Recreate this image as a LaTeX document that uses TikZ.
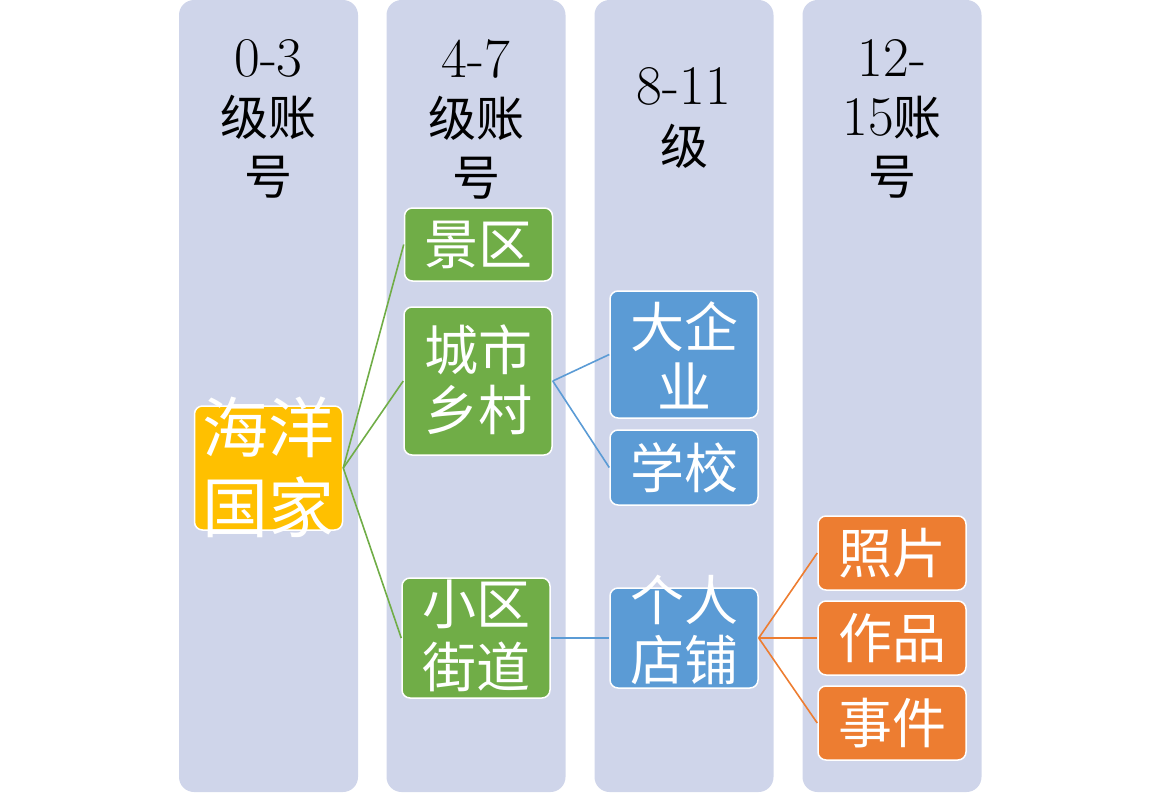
\documentclass[tikz,border=0pt]{standalone}
\usepackage{fontspec}
\newfontfamily\cjk{Noto Sans CJK SC}
\newcommand{\dg}[1]{{\fontsize{56}{59}\selectfont #1}}
\definecolor{lanec}{HTML}{CFD5EA}
\definecolor{gold}{HTML}{FFC000}
\definecolor{grn}{HTML}{70AD47}
\definecolor{blu}{HTML}{5B9BD5}
\definecolor{org}{HTML}{ED7D31}
\begin{document}
\begin{tikzpicture}[x=1pt,y=-1pt,
  lanebox/.style={fill=lanec, rounded corners=15pt, minimum width=179pt, minimum height=792pt, inner sep=0pt},
  hdr/.style={align=center, text=black, font=\fontsize{48}{59}\selectfont},
  box/.style={draw=white, line width=1.5pt, rounded corners=8pt, inner sep=0pt, minimum width=148pt},
  txt/.style={align=center, text=white, inner sep=0pt, font=\cjk\fontsize{54}{60}\selectfont},
  gline/.style={draw=grn, line width=1.6pt},
  bline/.style={draw=blu, line width=1.6pt},
  oline/.style={draw=org, line width=1.6pt}]
\useasboundingbox (0,0) rectangle (1160,796);
% lanes
\node[lanebox] (L1) at (268.5,396) {};
\node[lanebox] (L2) at (476,396) {};
\node[lanebox] (L3) at (684,396) {};
\node[lanebox] (L4) at (892,396) {};
% headers
\node[hdr] (H1) at (268.5,119) {\dg{0-3}\\{\cjk 级账}\\{\cjk 号}};
\node[hdr] (H2) at (476,119) {\dg{4-7}\\{\cjk 级账}\\{\cjk 号}};
\node[hdr, font=\fontsize{48}{60}\selectfont] (H3) at (684,118) {\dg{8-11}\\{\cjk 级}};
\node[hdr] (H4) at (892,119) {\dg{12-}\\\dg{15}{\cjk 账}\\{\cjk 号}};
% boxes
\node[box, fill=gold, minimum height=124pt] (hy) at (268.5,468) {};
\node[box, fill=grn, minimum height=73pt] (jq) at (478.5,244.5) {};
\node[box, fill=grn, minimum height=148pt] (cs) at (478,381) {};
\node[box, fill=grn, minimum height=120pt] (xq) at (476,638) {};
\node[box, fill=blu, minimum height=127pt] (dq) at (684,354.5) {};
\node[box, fill=blu, minimum height=75pt] (xx) at (684,467.5) {};
\node[box, fill=blu, minimum height=100pt] (gr) at (684,638) {};
\node[box, fill=org, minimum height=74pt] (zp) at (892,553) {};
\node[box, fill=org, minimum height=74pt] (zw) at (892,638) {};
\node[box, fill=org, minimum height=74pt] (sj) at (892,723) {};
% texts
\node[txt, font=\cjk\fontsize{66}{80}\selectfont] (thy) at (268.5,467) {海洋\\国家};
\node[txt] (tjq) at (478.5,244.5) {景区};
\node[txt] (tcs) at (478,380) {城市\\乡村};
\node[txt, font=\cjk\fontsize{54}{63}\selectfont] (txq) at (476,636) {小区\\街道};
\node[txt] (tdq) at (684,355) {大企\\业};
\node[txt] (txx) at (684,467.5) {学校};
\node[txt] (tgr) at (684,630) {个人\\店铺};
\node[txt] (tzp) at (892,553) {照片};
\node[txt] (tzw) at (892,638) {作品};
\node[txt] (tsj) at (892,723) {事件};
% connectors
\draw[gline] (hy.east) -- (jq.west);
\draw[gline] (hy.east) -- (cs.west);
\draw[gline] (hy.east) -- (xq.west);
\draw[bline] (cs.east) -- (dq.west);
\draw[bline] (cs.east) -- (xx.west);
\draw[bline] (xq.east) -- (gr.west);
\draw[oline] (gr.east) -- (zp.west);
\draw[oline] (gr.east) -- (zw.west);
\draw[oline] (gr.east) -- (sj.west);
\end{tikzpicture}
\end{document}
